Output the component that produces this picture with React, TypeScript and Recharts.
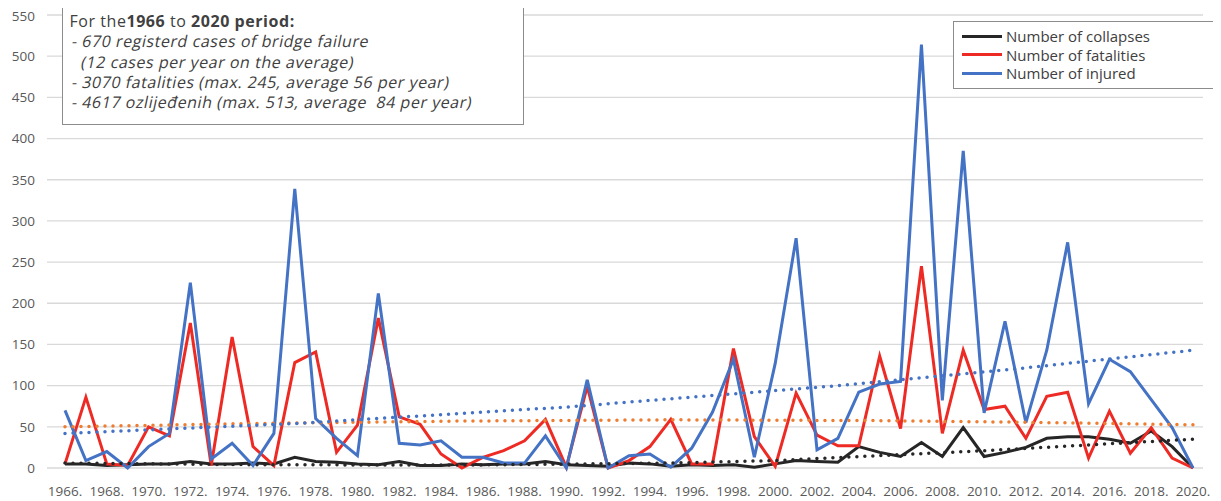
import React from 'react';
import { LineChart, Line, XAxis, YAxis, CartesianGrid } from 'recharts';

// ---------------------------------------------------------------------------
// Data
// ---------------------------------------------------------------------------

const YEARS = [
  '1966.', '1967.', '1968.', '1969.', '1970.', '1971.', '1972.', '1973.', '1974.', '1975.',
  '1976.', '1977.', '1978.', '1979.', '1980.', '1981.', '1982.', '1983.', '1984.', '1985.',
  '1986.', '1987.', '1988.', '1989.', '1990.', '1991.', '1992.', '1993.', '1994.', '1995.',
  '1996.', '1997.', '1998.', '1999.', '2000.', '2001.', '2002.', '2003.', '2004.', '2005.',
  '2006.', '2007.', '2008.', '2009.', '2010.', '2011.', '2012.', '2013.', '2014.', '2015.',
  '2016.', '2017.', '2018.', '2019.', '2020.',
];

const COLLAPSES = [
  5, 5, 3, 4, 5, 5, 8, 5, 5, 6,
  5, 13, 8, 7, 5, 4, 8, 3, 3, 5,
  4, 5, 5, 8, 4, 3, 2, 6, 5, 2,
  4, 3, 4, 1, 5, 9, 8, 7, 26, 19,
  14, 31, 14, 49, 14, 19, 25, 36, 38, 38,
  35, 30, 45, 26, 0,
];

const FATALITIES = [
  5, 86, 5, 3, 50, 39, 176, 3, 159, 26,
  3, 128, 141, 19, 52, 182, 62, 53, 17, 0,
  13, 21, 33, 59, 1, 99, 0, 9, 26, 59,
  5, 5, 145, 38, 2, 91, 40, 27, 27, 136,
  48, 245, 42, 143, 71, 75, 36, 87, 92, 12,
  69, 18, 49, 12, 0,
];

const INJURED = [
  70, 9, 20, 0, 26, 42, 225, 11, 30, 3,
  42, 339, 60, 36, 15, 212, 30, 28, 33, 13,
  13, 6, 6, 39, 0, 107, 0, 15, 17, 1,
  24, 68, 132, 13, 127, 279, 22, 36, 92, 102,
  105, 514, 82, 385, 67, 178, 55, 143, 274, 78,
  132, 117, 83, 49, 0,
];

// dotted trend lines, read at a few years
const COLLAPSE_TREND: [string, number][] = [
  ['1966.', 6], ['1975.', 4], ['1985.', 3.5], ['1995.', 6], ['2000.', 9],
  ['2005.', 15], ['2010.', 21], ['2015.', 28], ['2020.', 35],
];
const FATALITY_TREND: [string, number][] = [
  ['1966.', 50], ['1975.', 54], ['1985.', 57], ['1995.', 58.5], ['2005.', 57.5],
  ['2012.', 55.5], ['2020.', 52.5],
];
const INJURED_TREND: [string, number][] = [
  ['1966.', 42], ['1977.', 54], ['1990.', 74], ['2003.', 100], ['2011.', 119], ['2020.', 143],
];

const Y_TICKS = [0, 50, 100, 150, 200, 250, 300, 350, 400, 450, 500, 550];

// ---------------------------------------------------------------------------
// Styling
// ---------------------------------------------------------------------------

const BLACK = '#262626';
const RED = '#ee2a24';
const BLUE = '#4472c4';
const ORANGE = '#ed7d31';
const FONT = '"Open Sans", sans-serif';

const LEGEND_ITEMS = [
  { label: 'Number of collapses', color: BLACK },
  { label: 'Number of fatalities', color: RED },
  { label: 'Number of injured', color: BLUE },
];

const NOTE_LINES = [
  '- 670 registerd cases of bridge failure',
  '  (12 cases per year on the average)',
  '- 3070 fatalities (max. 245, average 56 per year)',
  '- 4617 ozlijeđenih (max. 513, average  84 per year)',
];

const lookup = (list: [string, number][], year: string) => {
  const hit = list.find((p) => p[0] === year);
  return hit ? hit[1] : null;
};

const rows = YEARS.map((year, i) => ({
  year,
  collapses: COLLAPSES[i],
  fatalities: FATALITIES[i],
  injured: INJURED[i],
  collapseTrend: lookup(COLLAPSE_TREND, year),
  fatalityTrend: lookup(FATALITY_TREND, year),
  injuredTrend: lookup(INJURED_TREND, year),
}));

const tickStyle = { fontSize: 13.5, fill: '#595959', fontFamily: FONT };

const trendProps = {
  strokeWidth: 3.5,
  strokeDasharray: '0 8',
  strokeLinecap: 'round' as const,
  connectNulls: true,
  dot: false,
  isAnimationActive: false,
};

const App: React.FC = () => {
  return (
    <div style={{ position: 'relative', width: 1213, height: 493, fontFamily: FONT }}>
      <LineChart
        width={1213}
        height={493}
        data={rows}
        margin={{ top: 7, right: 18, bottom: 3, left: 0 }}
      >
        <CartesianGrid vertical={false} stroke="#d9d9d9" strokeWidth={1.3} />
        <XAxis
          dataKey="year"
          interval={1}
          axisLine={false}
          tickLine={false}
          tickSize={0}
          tickMargin={18}
          padding={{ left: 18, right: 10 }}
          tick={tickStyle}
          height={30}
        />
        <YAxis
          domain={[0, 550]}
          ticks={Y_TICKS}
          axisLine={false}
          tickLine={false}
          tickSize={0}
          tickMargin={12}
          width={39}
          tick={tickStyle}
        />
        <Line dataKey="collapses" stroke={BLACK} strokeWidth={3} dot={false} isAnimationActive={false} />
        <Line dataKey="fatalities" stroke={RED} strokeWidth={3} dot={false} isAnimationActive={false} />
        <Line dataKey="injured" stroke={BLUE} strokeWidth={3} dot={false} isAnimationActive={false} />
        <Line dataKey="collapseTrend" stroke={BLACK} {...trendProps} />
        <Line dataKey="fatalityTrend" stroke={ORANGE} {...trendProps} />
        <Line dataKey="injuredTrend" stroke={BLUE} {...trendProps} />
      </LineChart>

      {/* summary note, top left */}
      <div
        style={{
          position: 'absolute',
          left: 54,
          top: -3,
          width: 462,
          height: 120,
          boxSizing: 'border-box',
          border: '1.5px solid #8c8c8c',
          background: '#fff',
          padding: '5px 0 0 6.5px',
          fontSize: 16,
          lineHeight: '20.3px',
          letterSpacing: 0.55,
          color: '#404040',
          whiteSpace: 'pre',
        }}
      >
        <div>
          For the<b>1966</b> to <b>2020 period:</b>
        </div>
        {NOTE_LINES.map((line) => (
          <div key={line}>
            <span
              style={{
                display: 'inline-block',
                transform: 'skewX(-12deg)',
                transformOrigin: '0 100%',
              }}
            >
              {line}
            </span>
          </div>
        ))}
      </div>

      {/* legend, top right */}
      <div
        style={{
          position: 'absolute',
          left: 945,
          top: 13,
          width: 262,
          height: 68,
          boxSizing: 'border-box',
          border: '1.5px solid #8c8c8c',
          background: '#fff',
          padding: '5px 0 0 8px',
        }}
      >
        {LEGEND_ITEMS.map((item) => (
          <div key={item.label} style={{ display: 'flex', alignItems: 'center', height: 18.6 }}>
            <span style={{ width: 40, height: 3, background: item.color, marginRight: 4 }} />
            <span style={{ fontSize: 15, color: '#404040' }}>{item.label}</span>
          </div>
        ))}
      </div>
    </div>
  );
};

export default App;
